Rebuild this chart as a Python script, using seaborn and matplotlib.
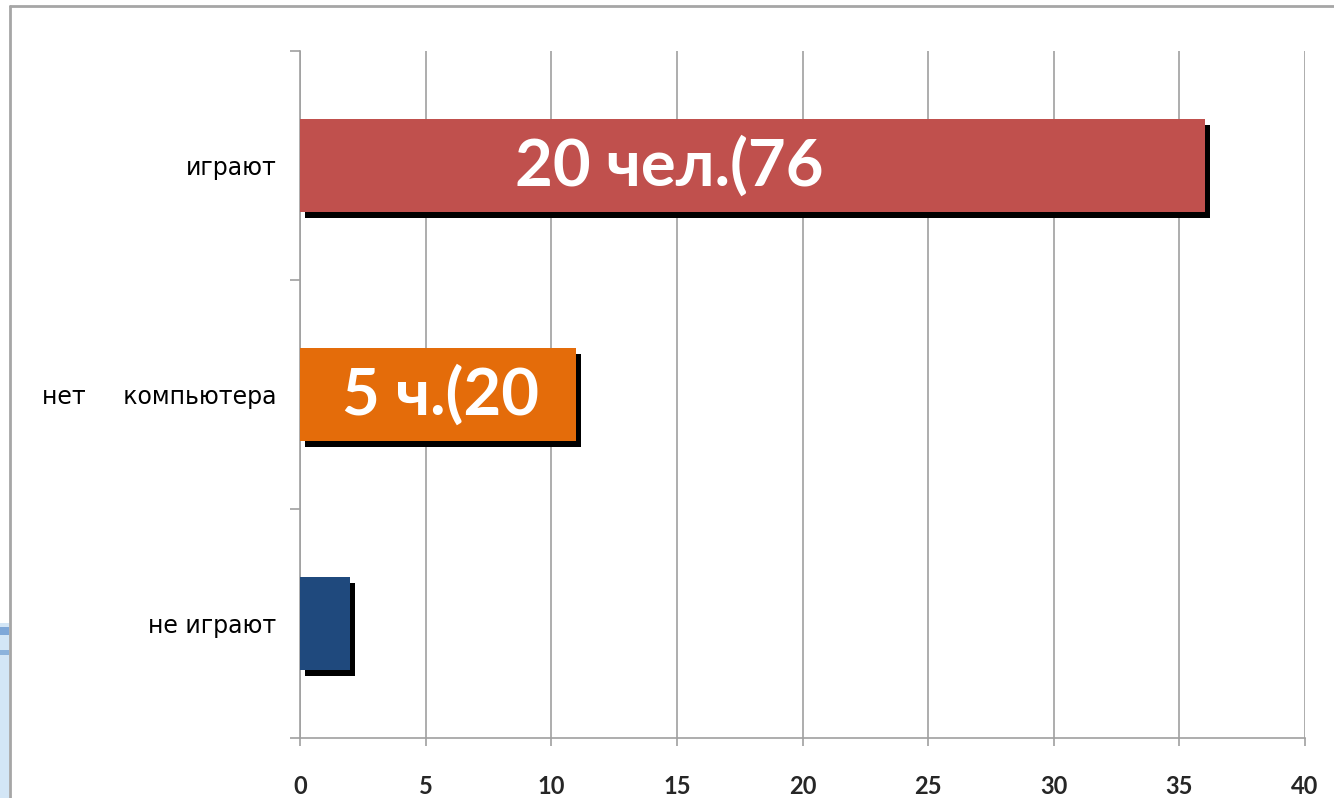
import matplotlib
matplotlib.use("Agg")
import matplotlib.pyplot as plt
import matplotlib.transforms as mtransforms
from matplotlib.patches import Rectangle
import pandas as pd
import seaborn as sns

categories = ['играют', 'нет     компьютера', 'не играют']
values = [36, 11, 2]
colors = ['#C0504D', '#E46C0A', '#1F497D']
bar_labels = ['20 чел.(76', '5 ч.(20', '']
label_x = [14.7, 5.6, 0]
x_ticks = [0, 5, 10, 15, 20, 25, 30, 35, 40]

sns.set_style('white')
plt.rcParams['font.family'] = ['DejaVu Sans']

df = pd.DataFrame({'cat': categories, 'val': values})

fig = plt.figure(figsize=(13.34, 7.98), dpi=100)
ax = fig.add_axes([0.2249, 0.0752, 0.9783 - 0.2249, 0.9361 - 0.0752])

sns.barplot(data=df, x='val', y='cat', hue='cat', palette=colors,
            width=0.41, legend=False, ax=ax, saturation=1, zorder=3)

# тени под столбцами
shift = mtransforms.ScaledTranslation(5 / 100, -6 / 100, fig.dpi_scale_trans)
for p in list(ax.patches):
    p.set_edgecolor('none')
    sh = Rectangle(p.get_xy(), p.get_width(), p.get_height(),
                   facecolor='black', edgecolor='none', zorder=2,
                   transform=ax.transData + shift)
    ax.add_patch(sh)

for i, txt in enumerate(bar_labels):
    if txt:
        ax.text(label_x[i], i, txt, color='white', fontsize=47,
                fontweight='bold', family='Lato', ha='center', va='center',
                zorder=5)

ax.set_xlim(0, 40)
ax.set_ylim(2.5, -0.5)
ax.set_xticks(x_ticks)
ax.set_xticklabels([str(t) for t in x_ticks], fontsize=17,
                   fontweight='bold', family='Lato')
ax.set_yticks(range(len(categories)))
ax.set_yticklabels(categories, fontsize=17)
ax.set_yticks([-0.5, 0.5, 1.5, 2.5], minor=True)
ax.set_xlabel('')
ax.set_ylabel('')

ax.xaxis.grid(True, color='#A0A0A0', linewidth=1.2, zorder=0)
ax.yaxis.grid(False)
ax.set_axisbelow(True)
for s in ['top', 'right']:
    ax.spines[s].set_visible(False)
for s in ['left', 'bottom']:
    ax.spines[s].set_color('#A0A0A0')
    ax.spines[s].set_linewidth(1.2)

ax.tick_params(axis='y', which='major', length=0, pad=17, colors='black')
ax.tick_params(axis='y', which='minor', length=7, width=1.2, color='#A0A0A0',
               left=True)
ax.tick_params(axis='x', which='major', length=6, width=1.2, color='#A0A0A0',
               pad=21, bottom=True, direction='out')

# рамка слайда
fig.add_artist(plt.Line2D([10 / 1334, 1], [1 - 6 / 798, 1 - 6 / 798],
                          transform=fig.transFigure, color='#A6A6A6', lw=2))
fig.add_artist(plt.Line2D([10 / 1334, 10 / 1334], [0, 1 - 6 / 798],
                          transform=fig.transFigure, color='#A6A6A6', lw=2))
fig.add_artist(Rectangle((0, 0), 9 / 1334, 175 / 798, transform=fig.transFigure,
                         facecolor='#D3E6F6', edgecolor='none'))
fig.add_artist(Rectangle((0, 163 / 798), 9 / 1334, 8 / 798,
                         transform=fig.transFigure, facecolor='#7FA8D8',
                         edgecolor='none'))
fig.add_artist(Rectangle((0, 143 / 798), 9 / 1334, 5 / 798,
                         transform=fig.transFigure, facecolor='#8DB3DC',
                         edgecolor='none'))

fig.savefig('out.png', dpi=100)
